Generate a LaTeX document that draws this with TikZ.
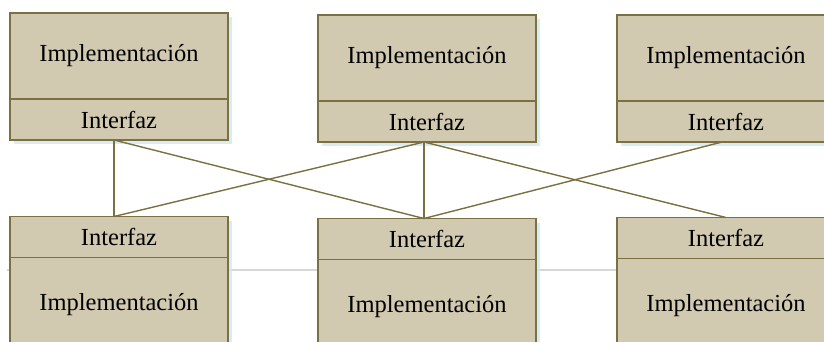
\documentclass[tikz,border=0pt]{standalone}
\usepackage{fontspec}
\setmainfont{Liberation Serif}
\usetikzlibrary{positioning,shadows}

\definecolor{boxfill}{RGB}{209,201,176}
\definecolor{boxline}{RGB}{122,112,66}
\definecolor{shadowblue}{RGB}{205,232,242}
\definecolor{guidegray}{RGB}{215,215,215}

\tikzset{
 part/.style={draw=boxline, fill=boxfill, line width=1.6pt, minimum width=218pt,
   inner sep=0pt, outer sep=0pt, font=\fontsize{24.5}{28}\selectfont,
   drop shadow={shadow xshift=4pt, shadow yshift=-4pt, fill=shadowblue, opacity=.8}},
 impl/.style={part, minimum height=86pt},
 intf/.style={part, minimum height=41pt},
 low impl/.style={part, minimum height=94pt},
 conn/.style={draw=boxline, line width=1.4pt}
}

\begin{document}
\begin{tikzpicture}[x=1pt, y=-1pt]
 \useasboundingbox (0,0) rectangle (824,341);
 \clip (0,0) rectangle (824,341);
 \fill[white] (0,0) rectangle (824,341);

 % thin rule behind the lower row
 \draw[guidegray, line width=1.5pt] (7,270) -- (824,270);

 % upper row: implementation on top of its interface
 \node[impl] (impl1) at (119,56) {Implementación};
 \node[intf, below=0pt of impl1] (intf1) {Interfaz};
 \node[impl] (impl2) at (427,58) {Implementación};
 \node[intf, below=0pt of impl2] (intf2) {Interfaz};
 \node[impl] (impl3) at (726,58) {Implementación};
 \node[intf, below=0pt of impl3] (intf3) {Interfaz};

 % lower row: interface on top of its implementation
 \node[intf] (intf4) at (119,237) {Interfaz};
 \node[low impl, below=0pt of intf4] (impl4) {Implementación};
 \node[intf] (intf5) at (427,239) {Interfaz};
 \node[low impl, below=0pt of intf5] (impl5) {Implementación};
 \node[intf] (intf6) at (726,238) {Interfaz};
 \node[low impl, below=0pt of intf6] (impl6) {Implementación};

 % links between interfaces
 \draw[conn] ([xshift=-5pt]intf1.south) -- ([xshift=-5pt]intf4.north);
 \draw[conn] ([xshift=-5pt]intf1.south) -- ([xshift=-3pt]intf5.north);
 \draw[conn] ([xshift=-3pt]intf2.south) -- ([xshift=-5pt]intf4.north);
 \draw[conn] ([xshift=-3pt]intf2.south) -- ([xshift=-3pt]intf5.north);
 \draw[conn] ([xshift=-3pt]intf2.south) -- ([xshift=0pt]intf6.north);
 \draw[conn] ([xshift=-4pt]intf3.south) -- ([xshift=-3pt]intf5.north);
\end{tikzpicture}
\end{document}
